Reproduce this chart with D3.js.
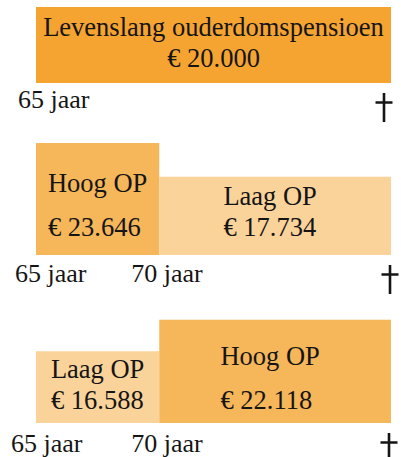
<!DOCTYPE html>
<html>
<head>
<meta charset="utf-8">
<script src="https://cdn.jsdelivr.net/npm/d3@7"></script>
<style>
  body { margin: 0; background: #fff; }
</style>
</head>
<body>
<svg id="chart" width="401" height="457"></svg>
<script>
// leeftijdsgrenzen (het kruis staat voor overlijden)
var ages = [65, 70, 79.4];
var ageLabels = ["65 jaar", "70 jaar", "†"];

// paneel 1: levenslang ouderdomspensioen
var flatNames = ["Levenslang ouderdomspensioen"];
var flatValues = [20000];

// paneel 2: eerst hoog, dan laag
var hlNames = ["Hoog OP", "Laag OP"];
var hlValues = [23646, 17734];

// paneel 3: eerst laag, dan hoog
var lhNames = ["Laag OP", "Hoog OP"];
var lhValues = [16588, 22118];

var colHigh = "#f6b65a";
var colLow = "#fad39b";
var colFlat = "#f5a431";
var FONT = "'Liberation Serif', 'Times New Roman', serif";
var INK = "#151515";

var svg = d3.select("#chart").style("font-family", FONT);
var fmt = function (v) { return "€ " + d3.format(",")(v).replace(/,/g, "."); };

// leeftijd -> x
var x = d3.scaleLinear().domain([ages[0], ages[2]]).range([36, 391]);
// bedrag -> hoogte van het blok
var hScale = d3.scaleLinear().domain([4000, 24000]).range([0, 114]);
var hFlat = d3.scaleLinear().domain([0, 20000]).range([0, 76]);

// opmaak per paneel
var panels = [
  { base: 83, h: hFlat, center: true, ticks: [0], textPad: 16, labelDy: 25, labelDx: -18, crossDx: -7,
    segs: [{ name: flatNames[0], value: flatValues[0], a: ages[0], b: ages[2], fill: colFlat }] },
  { base: 255, h: hScale, ticks: [0, 1], textPad: 19, labelDy: 27, labelDx: -21, crossDx: -1,
    segs: [
      { name: hlNames[0], value: hlValues[0], a: ages[0], b: ages[1], fill: colHigh },
      { name: hlNames[1], value: hlValues[1], a: ages[1], b: ages[2], fill: colLow }] },
  { base: 423, h: hScale, ticks: [0, 1], textPad: 14, labelDy: 29, labelDx: -25, crossDx: -2,
    segs: [
      { name: lhNames[0], value: lhValues[0], a: ages[0], b: ages[1], fill: colLow },
      { name: lhNames[1], value: lhValues[1], a: ages[1], b: ages[2], fill: colHigh }] }
];

panels.forEach(function (p) {
  var g = svg.append("g");
  var maxV = d3.max(p.segs, function (d) { return d.value; });

  // blokken
  g.selectAll("rect").data(p.segs).enter().append("rect")
    .attr("x", function (d) { return x(d.a); })
    .attr("width", function (d) { return x(d.b) - x(d.a); })
    .attr("y", function (d) { return p.base - p.h(d.value); })
    .attr("height", function (d) { return p.h(d.value); })
    .attr("fill", function (d) { return d.fill; });

  // teksten in de blokken
  p.segs.forEach(function (d) {
    var y2 = p.base - p.textPad;
    // hoge blokken krijgen meer ruimte tussen de regels
    var gap = (p.center || d.value < maxV) ? 31 : 44;
    var y1 = y2 - gap;
    var cx = (x(d.a) + x(d.b)) / 2;
    var t1 = g.append("text").attr("y", y1).attr("font-size", 26.5).attr("fill", INK).text(d.name);
    var t2 = g.append("text").attr("y", y2).attr("font-size", 26.5).attr("fill", INK).text(fmt(d.value));
    if (p.center) {
      t1.attr("x", cx).attr("text-anchor", "middle");
      t2.attr("x", cx).attr("text-anchor", "middle");
    } else {
      var w = Math.max(t1.node().getComputedTextLength(), t2.node().getComputedTextLength());
      var nudge = d.a === ages[1] ? -5 : 0; // brede blokken iets naar links
      t1.attr("x", cx - w / 2 + nudge);
      t2.attr("x", cx - w / 2 + nudge);
    }
  });

  // leeftijdslabels onder de blokken
  p.ticks.forEach(function (i) {
    g.append("text")
      .attr("x", x(ages[i]) + (i === 0 ? p.labelDx : -28))
      .attr("y", p.base + p.labelDy)
      .attr("font-size", 26)
      .attr("fill", INK)
      .text(ageLabels[i]);
  });

  // kruis bij overlijden
  var kx = x(ages[2]) + p.crossDx, ky = p.base + 10;
  g.append("path")
    .attr("d", "M" + kx + "," + ky + "V" + (ky + 29) + "M" + (kx - 8.5) + "," + (ky + 9.5) + "H" + (kx + 8.5))
    .attr("stroke", INK)
    .attr("stroke-width", 2.6)
    .attr("fill", "none")
    .append("title").text(ageLabels[2]);
});
</script>
</body>
</html>
